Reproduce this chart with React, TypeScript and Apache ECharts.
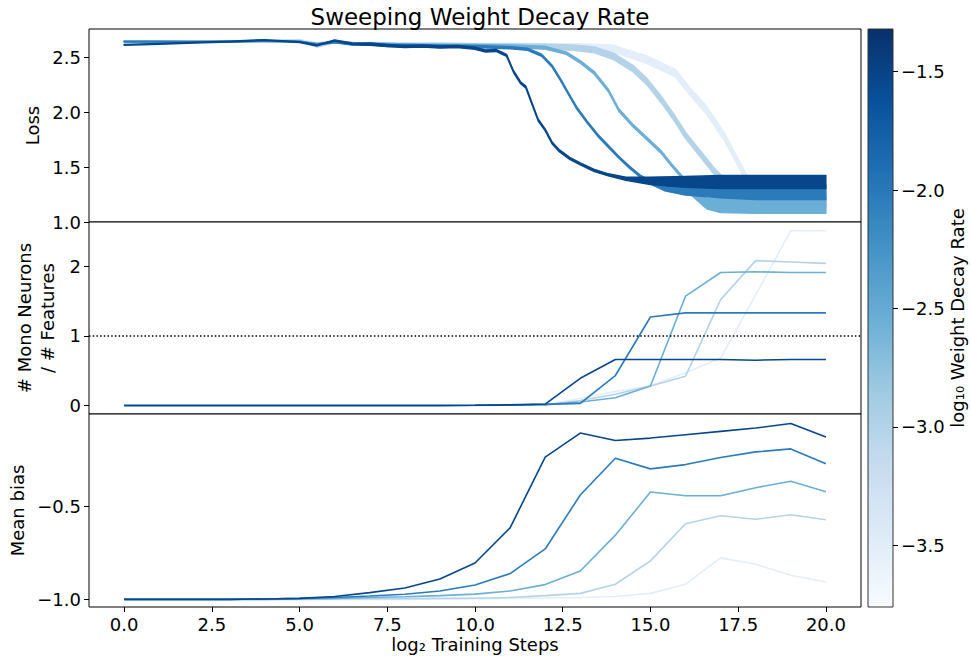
import React, { useEffect, useRef } from 'react';
import * as echarts from 'echarts';

// colour scale (log10 weight decay)
const decayLog10 = [-3.5, -3.0, -2.5, -2.0, -1.5];
const curveColors = ['#e3eef9', '#b4d3e9', '#6baed6', '#2b7bba', '#08468b'];
const colorbarRange = [-3.76, -1.32];
const colorbarTicks = [-3.5, -3.0, -2.5, -2.0, -1.5];
const blues = ['#f7fbff', '#deebf7', '#c6dbef', '#9ecae1', '#6baed6', '#4292c6', '#2171b5', '#08519c', '#08306b'];

// axes ticks
const xTicks = [0, 2.5, 5, 7.5, 10, 12.5, 15, 17.5, 20];
const lossTicks = [1.0, 1.5, 2.0, 2.5];
const monoTicks = [0, 1, 2];
const biasTicks = [-1.0, -0.5];
const monoRefLine = 1;

// Loss curves: step position, band centre, band thickness (noise)
const lossStepsE = [0, 1, 2, 3, 4, 5, 5.5, 6, 6.5, 7, 7.5, 8, 9, 10, 11, 12, 13, 13.9, 14.9, 15.7, 16.1, 16.6, 17.1, 17.4, 17.7, 18.0, 18.5, 19, 20];
const lossMidE = [2.648, 2.648, 2.65, 2.652, 2.655, 2.66, 2.63, 2.645, 2.62, 2.63, 2.625, 2.62, 2.615, 2.612, 2.61, 2.605, 2.6, 2.585, 2.48, 2.36, 2.2, 2.02, 1.78, 1.6, 1.42, 1.27, 1.22, 1.21, 1.21];
const lossWidthE = [0.008, 0.008, 0.008, 0.008, 0.008, 0.01, 0.01, 0.012, 0.015, 0.02, 0.02, 0.025, 0.03, 0.035, 0.04, 0.045, 0.05, 0.06, 0.07, 0.07, 0.07, 0.075, 0.075, 0.07, 0.07, 0.1, 0.12, 0.12, 0.12];

const lossStepsD = [0, 1, 2, 3, 4, 5, 5.5, 6, 6.5, 7, 7.5, 8, 9, 10, 11, 12, 12.8, 13.4, 13.95, 14.5, 14.9, 15.3, 15.7, 16.0, 16.4, 16.8, 17.2, 17.6, 18, 19, 20];
const lossMidD = [2.645, 2.645, 2.645, 2.648, 2.652, 2.655, 2.6, 2.64, 2.625, 2.625, 2.62, 2.618, 2.615, 2.61, 2.605, 2.6, 2.59, 2.57, 2.51, 2.4, 2.28, 2.12, 1.94, 1.79, 1.63, 1.47, 1.33, 1.22, 1.19, 1.19, 1.19];
const lossWidthD = [0.008, 0.008, 0.008, 0.008, 0.008, 0.01, 0.01, 0.012, 0.015, 0.02, 0.02, 0.025, 0.03, 0.035, 0.04, 0.045, 0.05, 0.055, 0.06, 0.06, 0.06, 0.06, 0.06, 0.06, 0.06, 0.06, 0.07, 0.1, 0.12, 0.12, 0.12];

const lossStepsC = [0, 1, 2, 3, 4, 5, 5.5, 6, 6.5, 7, 7.5, 8, 9, 10, 11, 12, 12.6, 13.0, 13.4, 13.8, 14.1, 14.5, 14.9, 15.3, 15.6, 15.9, 16.2, 16.6, 17, 18, 19, 20];
const lossMidC = [2.645, 2.645, 2.645, 2.645, 2.648, 2.645, 2.625, 2.64, 2.63, 2.62, 2.62, 2.615, 2.612, 2.61, 2.605, 2.59, 2.54, 2.46, 2.36, 2.2, 2.02, 1.88, 1.76, 1.64, 1.52, 1.41, 1.26, 1.17, 1.15, 1.15, 1.15, 1.15];
const lossWidthC = [0.008, 0.008, 0.008, 0.008, 0.008, 0.01, 0.01, 0.012, 0.015, 0.02, 0.02, 0.02, 0.02, 0.02, 0.02, 0.025, 0.025, 0.025, 0.025, 0.025, 0.025, 0.025, 0.025, 0.025, 0.025, 0.025, 0.05, 0.1, 0.13, 0.14, 0.14, 0.14];

const lossStepsB = [0, 1, 2, 3, 4, 5, 5.5, 6, 6.5, 7, 7.5, 8, 9, 10, 11, 11.5, 11.9, 12.2, 12.45, 12.7, 12.9, 13.2, 13.5, 13.8, 14.1, 14.4, 14.7, 15.0, 15.4, 16, 17, 18, 19, 20];
const lossMidB = [2.645, 2.645, 2.642, 2.645, 2.65, 2.645, 2.62, 2.64, 2.62, 2.625, 2.61, 2.61, 2.605, 2.6, 2.59, 2.575, 2.52, 2.42, 2.29, 2.15, 2.04, 1.91, 1.79, 1.69, 1.59, 1.5, 1.42, 1.36, 1.31, 1.285, 1.275, 1.27, 1.27, 1.27];
const lossWidthB = [0.008, 0.008, 0.008, 0.008, 0.008, 0.01, 0.01, 0.012, 0.015, 0.02, 0.02, 0.02, 0.02, 0.02, 0.02, 0.02, 0.02, 0.02, 0.02, 0.02, 0.02, 0.02, 0.02, 0.02, 0.02, 0.02, 0.02, 0.03, 0.05, 0.08, 0.11, 0.13, 0.13, 0.13];

const lossStepsA = [0, 1, 2, 3, 4, 5, 5.5, 6, 6.5, 7, 7.5, 8, 8.5, 9, 9.5, 10, 10.3, 10.6, 10.9, 11.1, 11.3, 11.45, 11.6, 11.8, 12.0, 12.2, 12.4, 12.7, 13.0, 13.4, 13.8, 14.3, 15, 16, 17, 18, 19, 20];
const lossMidA = [2.615, 2.625, 2.635, 2.645, 2.66, 2.64, 2.61, 2.655, 2.625, 2.62, 2.61, 2.6, 2.605, 2.595, 2.6, 2.585, 2.56, 2.565, 2.52, 2.37, 2.27, 2.23, 2.1, 1.93, 1.84, 1.72, 1.65, 1.58, 1.53, 1.47, 1.43, 1.395, 1.375, 1.365, 1.365, 1.365, 1.365, 1.365];
const lossWidthA = [0.008, 0.008, 0.008, 0.008, 0.008, 0.01, 0.01, 0.012, 0.015, 0.02, 0.02, 0.02, 0.02, 0.02, 0.02, 0.02, 0.02, 0.02, 0.02, 0.02, 0.02, 0.02, 0.02, 0.02, 0.02, 0.02, 0.02, 0.02, 0.02, 0.02, 0.02, 0.03, 0.07, 0.1, 0.12, 0.12, 0.12, 0.12];

// Mono neurons / features and mean bias at log2 steps 0..20
const steps = [0, 1, 2, 3, 4, 5, 6, 7, 8, 9, 10, 11, 12, 13, 14, 15, 16, 17, 18, 19, 20];
const monoE = [0, 0, 0, 0, 0, 0, 0, 0, 0, 0, 0.001, 0.003, 0.01, 0.1, 0.2, 0.28, 0.47, 0.68, 1.59, 2.51, 2.51];
const monoD = [0, 0, 0, 0, 0, 0, 0, 0, 0, 0, 0.001, 0.004, 0.01, 0.07, 0.16, 0.28, 0.42, 1.52, 2.08, 2.06, 2.04];
const monoC = [0, 0, 0, 0, 0, 0, 0, 0, 0, 0, 0.002, 0.005, 0.012, 0.05, 0.11, 0.28, 1.57, 1.91, 1.92, 1.91, 1.91];
const monoB = [0, 0, 0, 0, 0, 0, 0, 0, 0, 0, 0.002, 0.006, 0.015, 0.03, 0.43, 1.27, 1.33, 1.33, 1.33, 1.33, 1.33];
const monoA = [0, 0, 0, 0, 0, 0, 0, 0, 0, 0, 0.003, 0.008, 0.02, 0.39, 0.66, 0.66, 0.66, 0.66, 0.65, 0.66, 0.66];

const biasE = [-1.0, -1.0, -1.0, -1.0, -1.0, -1.0, -1.0, -1.0, -1.0, -0.998, -0.997, -0.995, -0.993, -0.99, -0.985, -0.968, -0.919, -0.778, -0.812, -0.871, -0.907];
const biasD = [-1.0, -1.0, -1.0, -1.0, -1.0, -1.0, -0.998, -0.997, -0.996, -0.995, -0.994, -0.99, -0.98, -0.968, -0.919, -0.794, -0.595, -0.552, -0.571, -0.547, -0.574];
const biasC = [-1.0, -1.0, -1.0, -1.0, -1.0, -0.998, -0.995, -0.99, -0.986, -0.98, -0.972, -0.955, -0.921, -0.848, -0.656, -0.425, -0.445, -0.445, -0.402, -0.367, -0.423];
const biasB = [-1.0, -1.0, -1.0, -1.0, -0.998, -0.995, -0.99, -0.982, -0.973, -0.955, -0.923, -0.862, -0.73, -0.441, -0.244, -0.301, -0.278, -0.24, -0.21, -0.194, -0.274];
const biasA = [-1.0, -1.0, -1.0, -1.0, -0.998, -0.995, -0.985, -0.964, -0.939, -0.891, -0.805, -0.617, -0.238, -0.109, -0.149, -0.136, -0.118, -0.1, -0.082, -0.058, -0.13];

const FONT = 'DejaVu Sans';
const fmtMinus = (v: number, d: number) => (v < 0 ? '\u2212' : '') + Math.abs(v).toFixed(d);

const lossSteps = [lossStepsE, lossStepsD, lossStepsC, lossStepsB, lossStepsA];
const lossMid = [lossMidE, lossMidD, lossMidC, lossMidB, lossMidA];
const lossWidth = [lossWidthE, lossWidthD, lossWidthC, lossWidthB, lossWidthA];
const monoAll = [monoE, monoD, monoC, monoB, monoA];
const biasAll = [biasE, biasD, biasC, biasB, biasA];

export default function App() {
  const ref = useRef<HTMLDivElement>(null);
  useEffect(() => {
    if (!ref.current) return;
    const chart = echarts.init(ref.current, undefined, { renderer: 'svg' });

    const labelStyle = { color: '#000', fontSize: 18, fontFamily: FONT, margin: 8 };
    const tickStyle = { show: true, length: 5, lineStyle: { color: '#000', width: 1 } };
    const gridBase = { left: 89, width: 772, show: true, borderColor: '#000', borderWidth: 1, backgroundColor: '#fff' };

    const series: any[] = [];
    for (let i = 0; i < 5; i++) {
      const n = Math.min(lossSteps[i].length, lossMid[i].length, lossWidth[i].length);
      const pts: number[][] = [];
      for (let k = 0; k < n; k++) {
        pts.push([lossSteps[i][k], lossMid[i][k] - lossWidth[i][k] / 2, lossMid[i][k] + lossWidth[i][k] / 2]);
      }
      const color = curveColors[i];
      series.push({
        type: 'custom', xAxisIndex: 0, yAxisIndex: 0, silent: true, clip: true,
        data: pts,
        encode: { x: 0, y: [1, 2] },
        renderItem: (params: any, api: any) => {
          if (params.dataIndex !== 0) return null;
          const upper = pts.map((p) => api.coord([p[0], p[2]]));
          const lower = pts.map((p) => api.coord([p[0], p[1]])).reverse();
          return {
            type: 'polygon',
            shape: { points: upper.concat(lower) },
            style: { fill: color, stroke: color, lineWidth: 1.3, lineJoin: 'round' },
          };
        },
      });
    }
    for (let i = 0; i < 5; i++) {
      const s: any = {
        type: 'line', xAxisIndex: 1, yAxisIndex: 1, symbol: 'none', silent: true,
        data: steps.map((x, k) => [x, monoAll[i][k]]),
        lineStyle: { color: curveColors[i], width: 1.6 },
      };
      if (i === 0) {
        s.markLine = {
          silent: true, symbol: ['none', 'none'], label: { show: false },
          lineStyle: { color: '#000', width: 1.5, type: [1.5, 2.2] },
          data: [{ yAxis: monoRefLine }],
        };
      }
      series.push(s);
    }
    for (let i = 0; i < 5; i++) {
      series.push({
        type: 'line', xAxisIndex: 2, yAxisIndex: 2, symbol: 'none', silent: true,
        data: steps.map((x, k) => [x, biasAll[i][k]]),
        lineStyle: { color: curveColors[i], width: 1.6 },
      });
    }

    const hiddenX = (gi: number) => ({
      type: 'value', gridIndex: gi, min: -1, max: 21,
      axisLine: { show: false, onZero: false }, axisTick: { show: false }, axisLabel: { show: false }, splitLine: { show: false },
    });

    const gradStops = blues.map((c, k) => ({ offset: 1 - k / (blues.length - 1), color: c })).reverse();
    const noLine = { show: false, onZero: false };

    chart.setOption({
      animation: false,
      title: {
        text: 'Sweeping Weight Decay Rate', left: 475, top: 0, textAlign: 'center',
        textStyle: { color: '#000', fontSize: 23, fontWeight: 'normal', fontFamily: FONT },
      },
      grid: [
        { ...gridBase, top: 29, height: 193 },
        { ...gridBase, top: 222, height: 192 },
        { ...gridBase, top: 414, height: 193 },
        {
          left: 868, width: 25, top: 29, height: 578, show: true, borderColor: '#333', borderWidth: 1,
          backgroundColor: new echarts.graphic.LinearGradient(0, 0, 0, 1, gradStops),
        },
      ],
      xAxis: [
        hiddenX(0),
        hiddenX(1),
        {
          type: 'value', gridIndex: 2, min: -1, max: 21,
          axisLine: noLine, splitLine: { show: false },
          axisTick: { ...tickStyle, customValues: xTicks },
          axisLabel: { ...labelStyle, customValues: xTicks, formatter: (v: number) => v.toFixed(1) },
          name: 'log\u2082 Training Steps', nameLocation: 'middle', nameGap: 28,
          nameTextStyle: { color: '#000', fontSize: 18, fontFamily: FONT },
        },
        {
          type: 'value', gridIndex: 3, min: 0, max: 1, show: false,
        },
      ],
      yAxis: [
        {
          type: 'value', gridIndex: 0, min: 1.0, max: 2.76,
          axisLine: noLine, splitLine: { show: false },
          axisTick: { ...tickStyle, customValues: lossTicks },
          axisLabel: { ...labelStyle, customValues: lossTicks, formatter: (v: number) => fmtMinus(v, 1) },
          name: 'Loss', nameLocation: 'middle', nameGap: 44,
          nameTextStyle: { color: '#000', fontSize: 18, fontFamily: FONT },
        },
        {
          type: 'value', gridIndex: 1, min: -0.123, max: 2.635,
          axisLine: noLine, splitLine: { show: false },
          axisTick: { ...tickStyle, customValues: monoTicks },
          axisLabel: { ...labelStyle, customValues: monoTicks, formatter: (v: number) => String(Math.round(v)) },
          name: '# Mono Neurons\n/ # Features', nameLocation: 'middle', nameGap: 26,
          nameTextStyle: { color: '#000', fontSize: 18, fontFamily: FONT, lineHeight: 23, align: 'center' },
        },
        {
          type: 'value', gridIndex: 2, min: -1.041, max: -0.007,
          axisLine: noLine, splitLine: { show: false },
          axisTick: { ...tickStyle, customValues: biasTicks },
          axisLabel: { ...labelStyle, customValues: biasTicks, formatter: (v: number) => fmtMinus(v, 1) },
          name: 'Mean bias', nameLocation: 'middle', nameGap: 58,
          nameTextStyle: { color: '#000', fontSize: 18, fontFamily: FONT },
        },
        {
          type: 'value', gridIndex: 3, position: 'right', min: colorbarRange[0], max: colorbarRange[1],
          axisLine: noLine, splitLine: { show: false },
          axisTick: { ...tickStyle, customValues: colorbarTicks },
          axisLabel: { ...labelStyle, customValues: colorbarTicks, formatter: (v: number) => fmtMinus(v, 1) },
          name: 'log\u2081\u2080 Weight Decay Rate', nameLocation: 'middle', nameGap: 54, nameRotate: 90,
          nameTextStyle: { color: '#000', fontSize: 18, fontFamily: FONT },
        },
      ],
      series,
    });

    return () => chart.dispose();
  }, []);

  return (
    <div
      ref={ref}
      style={{ position: 'fixed', left: 0, top: 0, width: 971, height: 658, background: '#fff' }}
      data-decay={decayLog10.join(',')}
    />
  );
}
